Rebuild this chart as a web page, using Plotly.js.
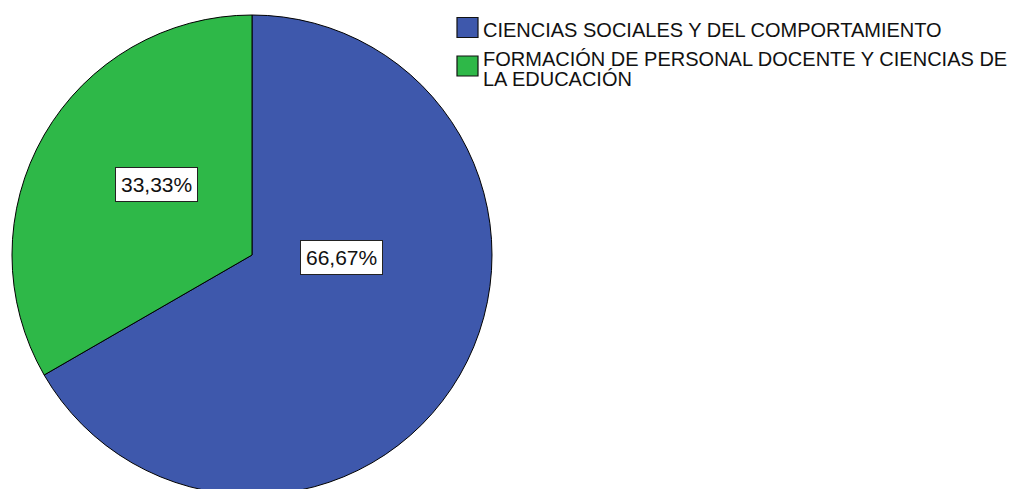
<!DOCTYPE html>
<html>
<head>
<meta charset="utf-8">
<script src="https://cdn.plot.ly/plotly-3.0.1.min.js"></script>
<style>
html,body{margin:0;padding:0;overflow:hidden;background:#fff;}
#chart{width:1011px;height:500px;}
</style>
</head>
<body>
<div id="chart"></div>
<script>
// Data
var categories = [
  "CIENCIAS SOCIALES Y DEL COMPORTAMIENTO",
  "FORMACIÓN DE PERSONAL DOCENTE Y CIENCIAS DE<br>LA EDUCACIÓN"
];
var counts = [2, 1];
var sliceColors = ["#3E58AC", "#2EB848"];

var total = counts.reduce(function(a, b){ return a + b; }, 0);
var pctLabels = counts.map(function(v){
  return (v / total * 100).toFixed(2).replace('.', ',') + '%';
});

var W = 1011, H = 500;
var FONT = "Liberation Sans, Arial, sans-serif";

var trace = {
  type: 'pie',
  labels: categories,
  values: counts,
  sort: false,
  direction: 'clockwise',
  rotation: 0,
  textinfo: 'none',
  hoverinfo: 'label+percent',
  marker: { colors: sliceColors, line: { color: '#000', width: 1 } },
  domain: { x: [12 / W, 492 / W], y: [1 - 495 / H, 1 - 15 / H] }
};

// label box placement (layout, paper coords)
var labelPos = [[341.5, 257.5], [156.5, 184]];
var annotations = pctLabels.map(function(t, i){
  return {
    text: t, xref: 'paper', yref: 'paper',
    x: labelPos[i][0] / W, y: 1 - labelPos[i][1] / H,
    xanchor: 'center', yanchor: 'middle', showarrow: false,
    font: { family: FONT, size: 21, color: '#111' },
    bgcolor: '#fff', bordercolor: '#222', borderwidth: 1, borderpad: 5
  };
});

var layout = {
  width: W, height: H,
  margin: { l: 0, r: 0, t: 0, b: 0, autoexpand: false },
  paper_bgcolor: '#fff',
  showlegend: true,
  legend: {
    x: 443 / W, xanchor: 'left', y: 1 - 10 / H, yanchor: 'top',
    font: { family: FONT, size: 20, color: '#111' },
    bgcolor: 'rgba(0,0,0,0)', tracegroupgap: 0
  },
  annotations: annotations
};

Plotly.newPlot('chart', [trace], layout, { staticPlot: true }).then(function(){
  var symShift = [[24.5, -2], [24.5, -5.5]];
  document.querySelectorAll('#chart .legend .legendpoints path').forEach(function(p, i){
    var s = symShift[i] || [24.5, 0];
    p.setAttribute('d', 'M10.5,10H-10.5V-10H10.5Z');
    p.setAttribute('transform', 'translate(' + s[0] + ',' + s[1] + ')');
    p.style.strokeWidth = '1.2px';
    p.style.stroke = '#111';
  });
  document.querySelectorAll('#chart .legend text.legendtext tspan.line').forEach(function(t){
    if (t.getAttribute('dy') && t.getAttribute('dy') !== '0em') {
      t.setAttribute('dy', '1em');
    }
  });
});
</script>
</body>
</html>
